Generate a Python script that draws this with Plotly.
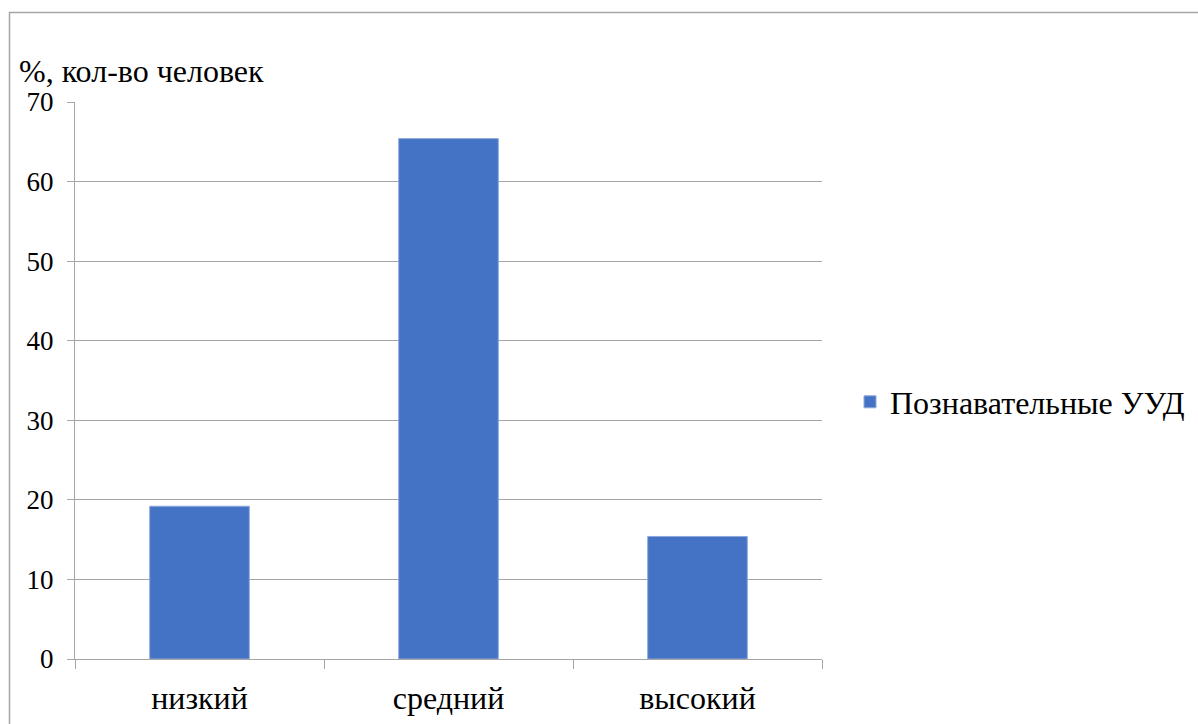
import plotly.graph_objects as go

categories = ["низкий", "средний", "высокий"]
values = [19.2, 65.4, 15.4]
series_name = "Познавательные УУД"
y_ticks = [0, 10, 20, 30, 40, 50, 60, 70]
y_title = "%, кол-во человек"

W, H = 1198, 724
L, R, T, B = 75, 376, 102, 65
pw, ph = W - L - R, H - T - B

def px_x(x):
    return (x - L) / pw

def px_y(y):
    return (H - B - y) / ph

FONT = "Liberation Serif, Times New Roman, serif"
GRID = "#a6a6a6"
TXT = 32

fig = go.Figure()
fig.add_trace(go.Bar(
    x=categories, y=values, name=series_name,
    marker=dict(color="#4472C4", line=dict(color="#8fa9dc", width=1)),
    width=0.4, showlegend=True,
))

fig.update_layout(
    width=W, height=H,
    margin=dict(l=L, r=R, t=T, b=B, autoexpand=False),
    paper_bgcolor="white", plot_bgcolor="white",
    font=dict(family=FONT, size=TXT, color="black"),
    showlegend=True,
    legend=dict(
        xref="container", yref="container",
        x=850 / W, y=1 - 402 / H, xanchor="left", yanchor="middle",
        font=dict(family=FONT, size=TXT, color="black"),
        bgcolor="rgba(0,0,0,0)", itemwidth=30,
    ),
    xaxis=dict(
        automargin=False,
        showgrid=False, showline=True, linecolor=GRID, linewidth=1,
        ticks="outside", ticklen=9, tickcolor=GRID,
        tickson="boundaries",
        tickfont=dict(family=FONT, size=TXT, color="black"),
        ticklabelstandoff=11,
        mirror=False,
    ),
    yaxis=dict(
        automargin=False,
        range=[0, 70], tickvals=y_ticks,
        showgrid=True, gridcolor=GRID, gridwidth=1,
        showline=True, linecolor=GRID, linewidth=1,
        ticks="outside", ticklen=7, tickcolor=GRID,
        tickfont=dict(family=FONT, size=27, color="black"),
        ticklabelstandoff=8,
        zeroline=False,
    ),
    bargap=0.6,
    annotations=[dict(
        text=y_title, xref="paper", yref="paper",
        x=px_x(17), y=px_y(71), xanchor="left", yanchor="middle",
        showarrow=False, font=dict(family=FONT, size=TXT, color="black"),
    )],
    shapes=[dict(
        type="rect", xref="paper", yref="paper",
        x0=px_x(9.5), x1=px_x(1300), y0=px_y(12.5), y1=px_y(800),
        line=dict(color="#a6a6a6", width=1.5), fillcolor="rgba(0,0,0,0)",
        layer="below",
    )],
)

fig.write_html("out.html")
